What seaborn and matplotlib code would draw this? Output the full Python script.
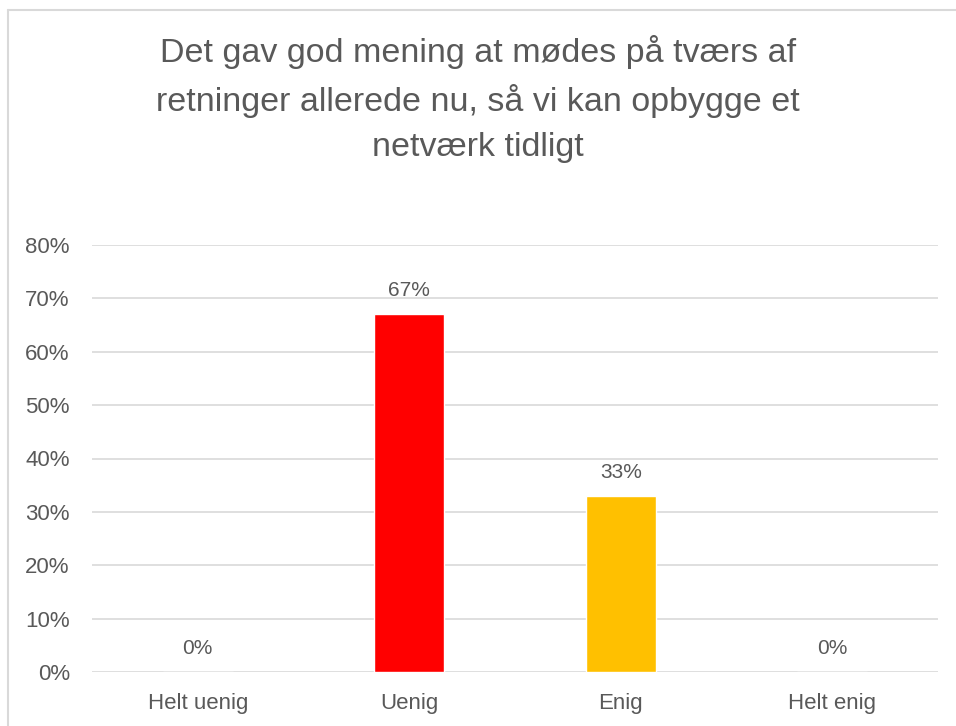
import matplotlib
matplotlib.use("Agg")
import matplotlib.pyplot as plt
from matplotlib.lines import Line2D
from matplotlib.ticker import PercentFormatter
import seaborn as sns
import pandas as pd

categories = ["Helt uenig", "Uenig", "Enig", "Helt enig"]
shares = [0.0, 0.67, 0.33, 0.0]
bar_colors = ["#4472C4", "#FF0000", "#FFC000", "#70AD47"]
title = "Det gav god mening at mødes på tværs af\nretninger allerede nu, så vi kan opbygge et\nnetværk tidligt"

df = pd.DataFrame({"svar": categories, "andel": shares})

sns.set_theme(style="white")
plt.rcParams["font.family"] = ["Liberation Sans", "DejaVu Sans"]
text_color = "#595959"
grid_color = "#D9D9D9"

W, H = 956, 726
fig = plt.figure(figsize=(W / 100, H / 100), dpi=100)
ax = fig.add_axes([92 / W, 1 - 672 / H, (938 - 92) / W, (672 - 245) / H])

sns.barplot(data=df, x="svar", y="andel", hue="svar", palette=bar_colors,
            width=0.33, legend=False, ax=ax, saturation=1)

ax.set_ylim(0, 0.8)
ax.set_yticks([i / 10 for i in range(9)])
ax.yaxis.set_major_formatter(PercentFormatter(1.0, decimals=0))
ax.set_xlim(-0.5, len(categories) - 0.5)
ax.grid(axis="y", color=grid_color, linewidth=1.2)
ax.set_axisbelow(True)
for s in ax.spines.values():
    s.set_visible(False)
ax.set_xlabel("")
ax.set_ylabel("")
ax.tick_params(axis="y", length=0, labelsize=16, colors=text_color, pad=16)
ax.tick_params(axis="x", length=0, labelsize=16, colors=text_color, pad=15)

for container in ax.containers:
    ax.bar_label(container, labels=[f"{v.get_height() * 100:.0f}%" for v in container],
                 padding=10, fontsize=15, color=text_color)

fig.text(0.5, 1 - 99 / H, title, ha="center", va="center", fontsize=24.5,
         color=text_color, linespacing=1.55)

# chart frame
fig.add_artist(Line2D([7.5 / W, 7.5 / W], [0, 1 - 9.5 / H], transform=fig.transFigure,
                      color=grid_color, linewidth=1.5))
fig.add_artist(Line2D([7.5 / W, 1], [1 - 9.5 / H, 1 - 9.5 / H], transform=fig.transFigure,
                      color=grid_color, linewidth=1.5))

fig.savefig("out.png", dpi=100, facecolor="white")
